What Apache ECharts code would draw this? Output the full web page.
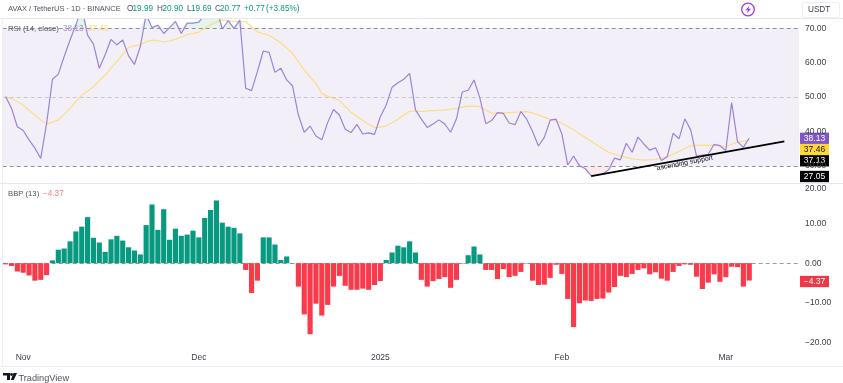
<!DOCTYPE html>
<html><head><meta charset="utf-8">
<style>html,body{margin:0;padding:0;background:#fff}#c{width:843px;height:383px}</style>
<script src="https://cdn.jsdelivr.net/npm/echarts@6/dist/echarts.min.js"></script>
</head><body><div id="c"></div>
<script>
const rsi=[50.2,46.8,41.4,40.3,37.6,35.2,32.2,42.4,55.2,56.7,61.8,66.6,71,76,68,65.4,58.4,62.3,66.8,65.2,66.6,62,59.5,64.7,74,70.2,70.9,68.5,70.2,72,68.5,71.5,71.5,71.8,74,74.8,76,69.8,72.2,70,72.4,52.6,51.9,57.4,63.4,63,57.2,58.4,55,53.3,44.8,39.8,41.6,38.7,37.6,42.6,46.4,44.8,40.7,39.7,42.1,39.3,39.6,39.2,44.3,47.7,52.9,54.2,55.2,56.9,46.3,43.6,41.2,42.2,43.4,42.2,39.8,43.7,51.5,52,55,49.7,42.3,43.2,45.5,45.3,42.5,42,45.8,43.6,40,35.8,38.3,43.3,43.6,39.3,30.3,32.9,30.1,29.2,27.2,27.3,27.7,28.9,32.3,31.8,36.6,34,38.4,36.4,34.6,35.3,31.6,32.7,39.5,37.9,43.7,40.5,32.9,33.2,33.4,36.3,35.9,34.5,48.4,37.1,35.4,38.13];
const rsiMA=[50,49.6,48.7,47.6,46.2,44.8,43.4,42.3,42.7,43.4,45,46.8,48.7,50.6,51.8,53,54.7,56.4,58.4,60.3,62.4,64.4,64.9,65.2,66,66.6,66.4,66,66.3,66.8,67.5,68.2,68.5,68.9,70,71,71.8,72.4,72.2,72,71.9,71.9,70.4,69,68.4,67.9,66.9,65.8,64.3,62.7,60.3,57.9,55.9,54,51,50.3,49.7,49,47.3,45.6,44.4,43.2,42.1,41.2,41.3,41.6,42.6,43.6,44.8,45.9,45.9,45.8,46,46.1,46.2,46.3,46.5,46.7,47.1,47.4,47.4,47.2,46.2,45.3,45.4,45.5,45.5,45.6,45.7,45.8,45.4,44.8,44.2,43.6,43,42.4,41.5,40.5,39.4,38.3,37.2,36.1,35,33.9,33.4,32.9,32.5,32.1,31.9,31.7,31.8,31.9,32.3,32.7,33.4,34.2,35.1,35.9,36,36.1,36,36,35.8,35.6,36.3,36.9,37.2,37.46];
const bbp=[-0.3,-0.7,-2.1,-2.4,-3.1,-4.4,-4.2,-3,0.7,3.4,3.7,5.5,8,9.2,11.6,6.4,5.2,2.85,6,6.9,5.7,4,3.2,2.2,9.6,14.8,8.4,13.6,5.9,8.7,6.9,7.2,8.2,6.5,11.4,13.4,15.8,10.2,9.2,8.9,7.5,-1.7,-7.5,-4.4,6.5,6.5,4.7,0.8,1.7,-0.1,-5.9,-12.9,-17.9,-10.2,-13.2,-10.5,-5.9,-3.2,-5.7,-6.7,-6.7,-6.4,-6.7,-5.5,-4.5,0.8,2.7,4.4,4,5.5,2.7,-4.2,-5.9,-4.5,-4,-3.5,-6.2,-4.2,-0.1,2,4.2,2.2,-1.7,-1.7,-4,-1.5,-3.5,-3.2,-2.2,-0.1,-4.4,-5.5,-5.4,-3.7,-0.4,-2.7,-9,-16.1,-10.1,-9.4,-9.5,-9,-8.9,-7.4,-6,-3.2,-3.5,-2.7,-1.7,-1.3,-2.8,-2.3,-3.9,-4.4,-2.2,-0.7,-0.3,-0.4,-3.4,-6.5,-4.9,-2.8,-4.7,-3.5,-0.9,-1,-5.9,-4.37];
const trendSupport=[[100,27.05],[133,37.13]];
const monthTicks={3:'Nov',33:'Dec',64:'2025',95:'Feb',123:'Mar'};
const rsiTicks=[30,40,50,60,70];
const bbpTicks=[-20,-10,0,10,20];
const slots=136;
const categories=Array.from({length:slots},(_,i)=>String(i));
const font='"Liberation Sans", Arial, sans-serif';
const axisFs=8.5;
function tag(y,t,bg,fg){return{type:'group',x:800,y:y-5.65,z:100,children:[
 {type:'rect',shape:{x:0,y:0,width:29,height:11.3},style:{fill:bg}},
 {type:'text',style:{x:14.5,y:6,text:t,fill:fg,align:'center',verticalAlign:'middle',font:axisFs+'px '+font}}]};}
function htext(x,y,t,c,size){return{type:'text',x,y,z:90,style:{text:t,fill:c,font:(size||8.2)+'px '+font,verticalAlign:'middle'}};}
const green='#089981',gray='#50535e';
const header=[
 ['AVAX / TetherUS · 1D · BINANCE',8,gray,7.5],['O',127,gray],['19.99',132.5,green],['H',157,gray],['20.90',162.5,green],['L',187,gray],['19.69',191,green],['C',215,gray],['20.77',220,green],['+0.77',244,green],['(+3.85%)',266,green]
].map(a=>htext(a[1],8.5,a[0],a[2],a[3]));
const chart=echarts.init(document.getElementById('c'),null,{renderer:'canvas'});
chart.setOption({
 animation:false,backgroundColor:'#fff',
 grid:[{left:2.7,right:44,top:18.5,height:164.5},{left:2.7,right:44,top:183,height:183}],
 xAxis:[0,1].map(g=>({type:'category',gridIndex:g,data:categories,boundaryGap:true,
   axisTick:{show:false},axisLine:{show:false},splitLine:{show:false},
   axisLabel:{show:g===1,interval:0,inside:true,margin:4,hideOverlap:false,color:'#3a3d47',fontFamily:font,fontSize:axisFs,
     formatter:(v,i)=>monthTicks[i]||''}})),
 yAxis:[
  {type:'value',gridIndex:0,position:'right',min:25.06,max:72.85,splitLine:{show:false},axisLine:{show:false},axisTick:{show:false},
   axisLabel:{customValues:rsiTicks,margin:6,color:'#3a3d47',fontFamily:font,fontSize:axisFs,formatter:v=>v.toFixed(2)}},
  {type:'value',gridIndex:1,position:'right',min:-25.9,max:20.2,splitLine:{show:false},axisLine:{show:false},axisTick:{show:false},
   axisLabel:{customValues:bbpTicks,margin:6,color:'#3a3d47',fontFamily:font,fontSize:axisFs,verticalAlignMaxLabel:'top',
   formatter:v=>(v<0?'\u2212'+(-v).toFixed(2):v.toFixed(2))}}
 ],
 graphic:[
  {type:'line',z:90,shape:{x1:0,y1:18.5,x2:843,y2:18.5},style:{stroke:'#e6e8ee',lineWidth:1}},
  {type:'line',z:90,shape:{x1:0,y1:183.5,x2:843,y2:183.5},style:{stroke:'#e6e8ee',lineWidth:1}},
  {type:'line',z:90,shape:{x1:0,y1:366.5,x2:843,y2:366.5},style:{stroke:'#eceef2',lineWidth:1}},
  {type:'line',z:90,shape:{x1:2.5,y1:18,x2:2.5,y2:366},style:{stroke:'#eceef2',lineWidth:1}},
  ...header,
  htext(8,28.5,'RSI (14, close)','#50535e',7.7),htext(63,28.5,'38.13','#a58fd8'),htext(88,28.5,'37.46','#f5d978'),
  htext(8,194,'BBP (13)','#50535e',7.7),htext(43,194,'\u22124.37','#f77c85'),
  {type:'circle',z:90,shape:{cx:748,cy:9.5,r:6.3},style:{fill:'#fff',stroke:'#9c3fc9',lineWidth:1.3}},
  {type:'polygon',z:91,shape:{points:[[749.5,5.5],[745.5,10.2],[748,10.2],[746.8,13.5],[751,8.8],[748.4,8.8]]},style:{fill:'#9c3fc9'}},
  {type:'rect',z:90,shape:{x:802.5,y:2.5,width:37,height:15,r:2},style:{fill:'#fff',stroke:'#eceef2',lineWidth:1}},
  htext(808,10,'USDT','#3a3d47',8.2),
  tag(138.3,'38.13','#7e57c2','#fff'),tag(149.6,'37.46','#fdd835','#131722'),tag(160.8,'37.13','#000','#fff'),tag(176.5,'27.05','#000','#fff'),tag(281.5,'\u22124.37','#f23645','#fff'),
  {type:'polygon',z:90,shape:{points:[[3,373],[10,373],[10,380],[7,380],[7,375.5],[3,375.5]]},style:{fill:'#131722'}},
  {type:'circle',z:90,shape:{cx:11.5,cy:374.5,r:1.4},style:{fill:'#131722'}},
  {type:'polygon',z:90,shape:{points:[[13.5,373],[17,373],[13.8,380],[10.8,380]]},style:{fill:'#131722'}},
  htext(18.5,378,'TradingView','#50535e',9.2)
 ],
 series:[
  {type:'line',xAxisIndex:0,yAxisIndex:0,data:[],silent:true,
   markArea:{silent:true,itemStyle:{color:'#f2eff9'},data:[[{yAxis:70},{yAxis:30}]]},
   markLine:{silent:true,symbol:'none',label:{show:false},data:[
     {yAxis:70,lineStyle:{color:'#8f9099',type:[4,3],width:1}},
     {yAxis:50,lineStyle:{color:'#c8c8d0',type:[4,3],width:1}},
     {yAxis:30,lineStyle:{color:'#8f9099',type:[4,3],width:1}}]}},
  {type:'line',xAxisIndex:0,yAxisIndex:0,data:rsi.map(v=>Math.max(v,70)),symbol:'none',lineStyle:{width:0},areaStyle:{origin:70,color:'#e3f4ea',opacity:1},silent:true},
  {type:'line',xAxisIndex:0,yAxisIndex:0,data:rsi.map(v=>Math.min(v,30)),symbol:'none',lineStyle:{width:0},areaStyle:{origin:30,color:'#fdeaea',opacity:1},silent:true},
  {name:'RSI MA',type:'line',xAxisIndex:0,yAxisIndex:0,data:rsiMA,symbol:'none',lineStyle:{color:'#fddc7a',width:1.1},z:4},
  {name:'RSI',type:'line',xAxisIndex:0,yAxisIndex:0,data:rsi,symbol:'none',lineStyle:{color:'#9d83d8',width:1.2},z:5},
  {name:'Support',type:'line',xAxisIndex:0,yAxisIndex:0,data:trendSupport,symbol:'none',lineStyle:{color:'#000',width:1.8},z:6,
   markPoint:{symbol:'circle',symbolSize:0,data:[{coord:[116.4,30.9],label:{show:true,position:'inside',formatter:'ascending support',rotate:11,color:'#111',fontFamily:font,fontSize:7}}]}},
  {name:'BBP',type:'bar',xAxisIndex:1,yAxisIndex:1,barWidth:'88%',
   data:bbp.map(v=>({value:v,itemStyle:{color:v>=0?'#089981':'#f83a4a'}})),z:4,
   markLine:{silent:true,symbol:'none',z:1,label:{show:false},data:[{yAxis:0,lineStyle:{color:'#9a9ba3',type:[4,3],width:1}}]}}
 ]
});
</script></body></html>
